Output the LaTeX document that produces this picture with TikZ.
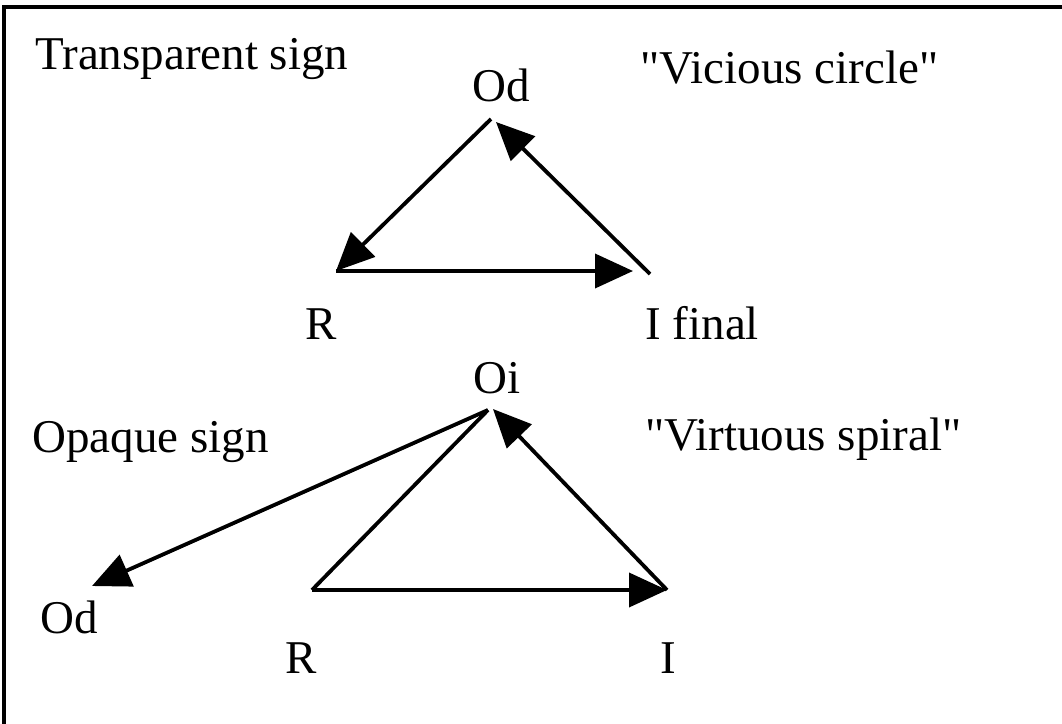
\documentclass[tikz,border=0pt]{standalone}
\usepackage{fontspec}
\setmainfont{Liberation Serif}
\usetikzlibrary{arrows.meta}
\begin{document}
\begin{tikzpicture}[x=0.5pt,y=-0.5pt,
  lbl/.style={inner sep=0pt, anchor=base west, font=\fontsize{23.5}{28}\selectfont},
  conn/.style={line width=1.9pt},
  arr/.style={conn, -{Triangle[length=19pt,width=17pt]}},
  frame/.style={line width=1.6pt}]
\useasboundingbox (0,0) rectangle (1062,724);
% frame
\coordinate (fbl) at (4,724);
\coordinate (ftl) at (4,7);
\coordinate (ftr) at (1062,7);
\draw[frame] (fbl) -- (ftl) -- (ftr);
% labels
\node[lbl] (tsign) at (35,69) {Transparent sign};
\node[lbl] (vc) at (640,83) {\textquotedbl Vicious circle\textquotedbl};
\node[lbl] (od1) at (472,101) {Od};
\node[lbl] (r1) at (305,339) {R};
\node[lbl] (if) at (645,339) {I final};
\node[lbl] (oi) at (473,393) {Oi};
\node[lbl] (osign) at (32,452) {Opaque sign};
\node[lbl] (vs) at (645,450) {\textquotedbl Virtuous spiral\textquotedbl};
\node[lbl] (od2) at (40,633) {Od};
\node[lbl] (r2) at (285,673) {R};
\node[lbl] (i2) at (660,673) {I};
% top triangle vertices
\coordinate (A) at (491,119);
\coordinate (Atip) at (496,122);
\coordinate (B) at (336,271);
\coordinate (C) at (633,271);
\coordinate (Cs) at (650,274);
\draw[arr] (A) -- (B);
\draw[arr] (B) -- (C);
\draw[arr] (Cs) -- (Atip);
% bottom
\coordinate (P) at (488,410);
\coordinate (Ptip) at (493,409);
\coordinate (Q) at (92,586);
\coordinate (S) at (312,590);
\coordinate (T) at (667,590);
\draw[arr] (P) -- (Q);
\draw[conn] (S) -- (P);
\draw[arr] (S) -- (T);
\draw[arr] (T) -- (Ptip);
\end{tikzpicture}
\end{document}
